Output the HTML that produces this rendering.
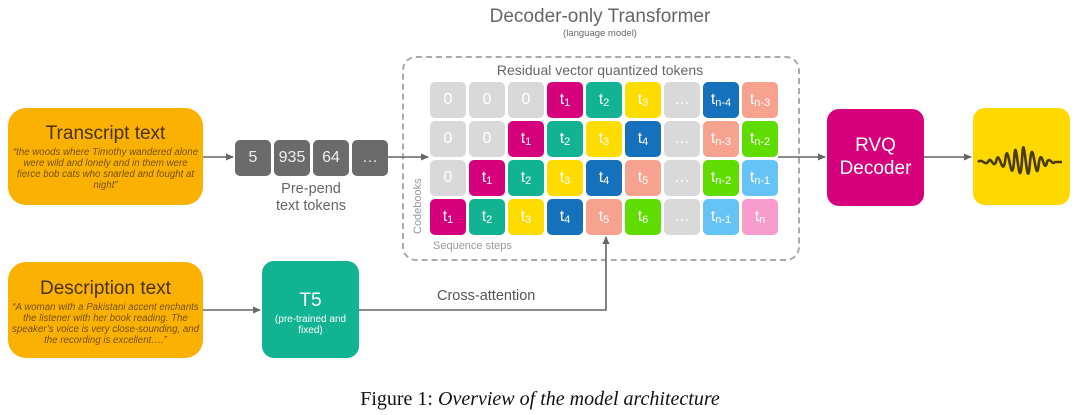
<!DOCTYPE html>
<html><head><meta charset="utf-8"><style>
*{margin:0;padding:0;box-sizing:border-box}
body{width:1080px;height:415px;background:#fff;position:relative;overflow:hidden;font-family:"Liberation Sans",sans-serif}
.a{position:absolute}
.c{position:absolute;width:36px;height:36px;border-radius:5px;color:#fff;font-size:16px;display:flex;align-items:center;justify-content:center}
.c sub{font-size:11px;vertical-align:baseline;position:relative;top:3px}
.g{background:#d9d9d9}
.m{background:#d6007c}.t{background:#12b393}.y{background:#ffdc00}.b{background:#1671bd}.s{background:#f7a18f}.gr{background:#5fdc00}.lb{background:#66c3f5}.p{background:#f79ccd}
.tok{position:absolute;top:140px;width:36px;height:36px;background:#6b6b6b;border-radius:5px;color:#eee;font-size:16px;display:flex;align-items:center;justify-content:center}
.box{position:absolute;border-radius:18px;text-align:center}
.q{font-style:italic;font-size:9.7px;color:#7a5000;line-height:11px;white-space:nowrap;margin-left:-10px;margin-right:-10px}
</style></head><body>
<div class="a" style="left:400px;width:400px;top:6px;text-align:center;font-size:19px;color:#666">Decoder-only Transformer</div>
<div class="a" style="left:400px;width:400px;top:28px;text-align:center;font-size:9.5px;color:#666">(language model)</div>
<div class="a" style="left:402px;top:56px;width:398px;height:205px;border:2px dashed #aaa;border-radius:14px"></div>
<div class="a" style="left:400px;width:400px;top:62px;text-align:center;font-size:14px;color:#666">Residual vector quantized tokens</div>
<div class="a" style="left:412px;top:234px;font-size:11px;color:#999;transform:rotate(-90deg);transform-origin:0 0">Codebooks</div>
<div class="a" style="left:433px;top:240px;font-size:11px;color:#999">Sequence steps</div>

<div class="c g" style="left:430px;top:82px">0</div>
<div class="c g" style="left:469px;top:82px">0</div>
<div class="c g" style="left:508px;top:82px">0</div>
<div class="c m" style="left:547px;top:82px">t<sub>1</sub></div>
<div class="c t" style="left:586px;top:82px">t<sub>2</sub></div>
<div class="c y" style="left:625px;top:82px">t<sub>3</sub></div>
<div class="c g" style="left:664px;top:82px">…</div>
<div class="c b" style="left:703px;top:82px">t<sub>n-4</sub></div>
<div class="c s" style="left:742px;top:82px">t<sub>n-3</sub></div>
<div class="c g" style="left:430px;top:121px">0</div>
<div class="c g" style="left:469px;top:121px">0</div>
<div class="c m" style="left:508px;top:121px">t<sub>1</sub></div>
<div class="c t" style="left:547px;top:121px">t<sub>2</sub></div>
<div class="c y" style="left:586px;top:121px">t<sub>3</sub></div>
<div class="c b" style="left:625px;top:121px">t<sub>4</sub></div>
<div class="c g" style="left:664px;top:121px">…</div>
<div class="c s" style="left:703px;top:121px">t<sub>n-3</sub></div>
<div class="c gr" style="left:742px;top:121px">t<sub>n-2</sub></div>
<div class="c g" style="left:430px;top:160px">0</div>
<div class="c m" style="left:469px;top:160px">t<sub>1</sub></div>
<div class="c t" style="left:508px;top:160px">t<sub>2</sub></div>
<div class="c y" style="left:547px;top:160px">t<sub>3</sub></div>
<div class="c b" style="left:586px;top:160px">t<sub>4</sub></div>
<div class="c s" style="left:625px;top:160px">t<sub>5</sub></div>
<div class="c g" style="left:664px;top:160px">…</div>
<div class="c gr" style="left:703px;top:160px">t<sub>n-2</sub></div>
<div class="c lb" style="left:742px;top:160px">t<sub>n-1</sub></div>
<div class="c m" style="left:430px;top:199px">t<sub>1</sub></div>
<div class="c t" style="left:469px;top:199px">t<sub>2</sub></div>
<div class="c y" style="left:508px;top:199px">t<sub>3</sub></div>
<div class="c b" style="left:547px;top:199px">t<sub>4</sub></div>
<div class="c s" style="left:586px;top:199px">t<sub>5</sub></div>
<div class="c gr" style="left:625px;top:199px">t<sub>6</sub></div>
<div class="c g" style="left:664px;top:199px">…</div>
<div class="c lb" style="left:703px;top:199px">t<sub>n-1</sub></div>
<div class="c p" style="left:742px;top:199px">t<sub>n</sub></div>

<div class="box" style="left:8px;top:108px;width:195px;height:97px;background:#fbb102">
<div style="font-size:19px;color:#4a3200;margin-top:16px;line-height:20px">Transcript text</div>
<div class="q" style="margin-top:3px">“the woods where Timothy wandered alone<br>were wild and lonely and in them were<br>fierce bob cats who snarled and fought at<br>night”</div></div>
<div class="box" style="left:8px;top:262px;width:195px;height:96px;background:#fbb102">
<div style="font-size:19px;color:#4a3200;margin-top:17px;line-height:20px">Description text</div>
<div class="q" style="margin-top:3px">“A woman with a Pakistani accent enchants<br>the listener with her book reading. The<br>speaker’s voice is very close-sounding, and<br>the recording is excellent….”</div></div>

<div class="tok" style="left:235px">5</div>
<div class="tok" style="left:274px">935</div>
<div class="tok" style="left:313px">64</div>
<div class="tok" style="left:352px">…</div>
<div class="a" style="left:261px;width:100px;top:181px;text-align:center;font-size:14.5px;color:#666;line-height:17px">Pre-pend<br>text tokens</div>

<div class="box" style="left:262px;top:261px;width:97px;height:97px;background:#12b393;border-radius:12px;color:#fff">
<div style="font-size:19px;margin-top:29px">T5</div>
<div style="font-size:10px;line-height:11px;margin-top:2px">(pre-trained and<br>fixed)</div></div>
<div class="a" style="left:437px;top:288px;font-size:14.5px;color:#555">Cross-attention</div>

<div class="box" style="left:827px;top:109px;width:97px;height:97px;background:#d6007c;border-radius:12px;color:#fff;font-size:19px;line-height:23px;padding-top:25px">RVQ<br>Decoder</div>
<div class="box" style="left:973px;top:108px;width:97px;height:97px;background:#ffd800;border-radius:12px"></div>

<svg class="a" style="left:0;top:0" width="1080" height="415">
<defs><marker id="ar" markerWidth="8" markerHeight="8" refX="7" refY="4" orient="auto" markerUnits="userSpaceOnUse"><path d="M0,0.5 L8,4 L0,7.5z" fill="#666"/></marker></defs>
<g stroke="#666" stroke-width="1.6" fill="none">
<line x1="203" y1="157" x2="233" y2="157" marker-end="url(#ar)"/>
<line x1="388" y1="157" x2="428" y2="157" marker-end="url(#ar)"/>
<line x1="778" y1="157" x2="825" y2="157" marker-end="url(#ar)"/>
<line x1="924" y1="157" x2="971" y2="157" marker-end="url(#ar)"/>
<line x1="203" y1="310" x2="260" y2="310" marker-end="url(#ar)"/>
<polyline points="359,310 606,310 606,237" marker-end="url(#ar)"/>
</g>
<path d="M978,162 C982,158 985,166 988,162 C991,155 993,169 996,162 C999,146 1002,178 1005,162 C1008,132 1011,192 1014,162 C1016,120 1019,204 1022,160 C1024,116 1027,204 1030,162 C1033,128 1036,194 1039,162 C1042,146 1044,176 1047,162 C1050,156 1052,166 1055,162 L1062,162" stroke="#4a3c00" stroke-width="2.6" fill="none"/>
</svg>
<div class="a" style="left:0;width:1080px;top:388px;text-align:center;font-family:'Liberation Serif',serif;font-size:20px;color:#111">Figure 1: <i>Overview of the model architecture</i></div>
</body></html>
